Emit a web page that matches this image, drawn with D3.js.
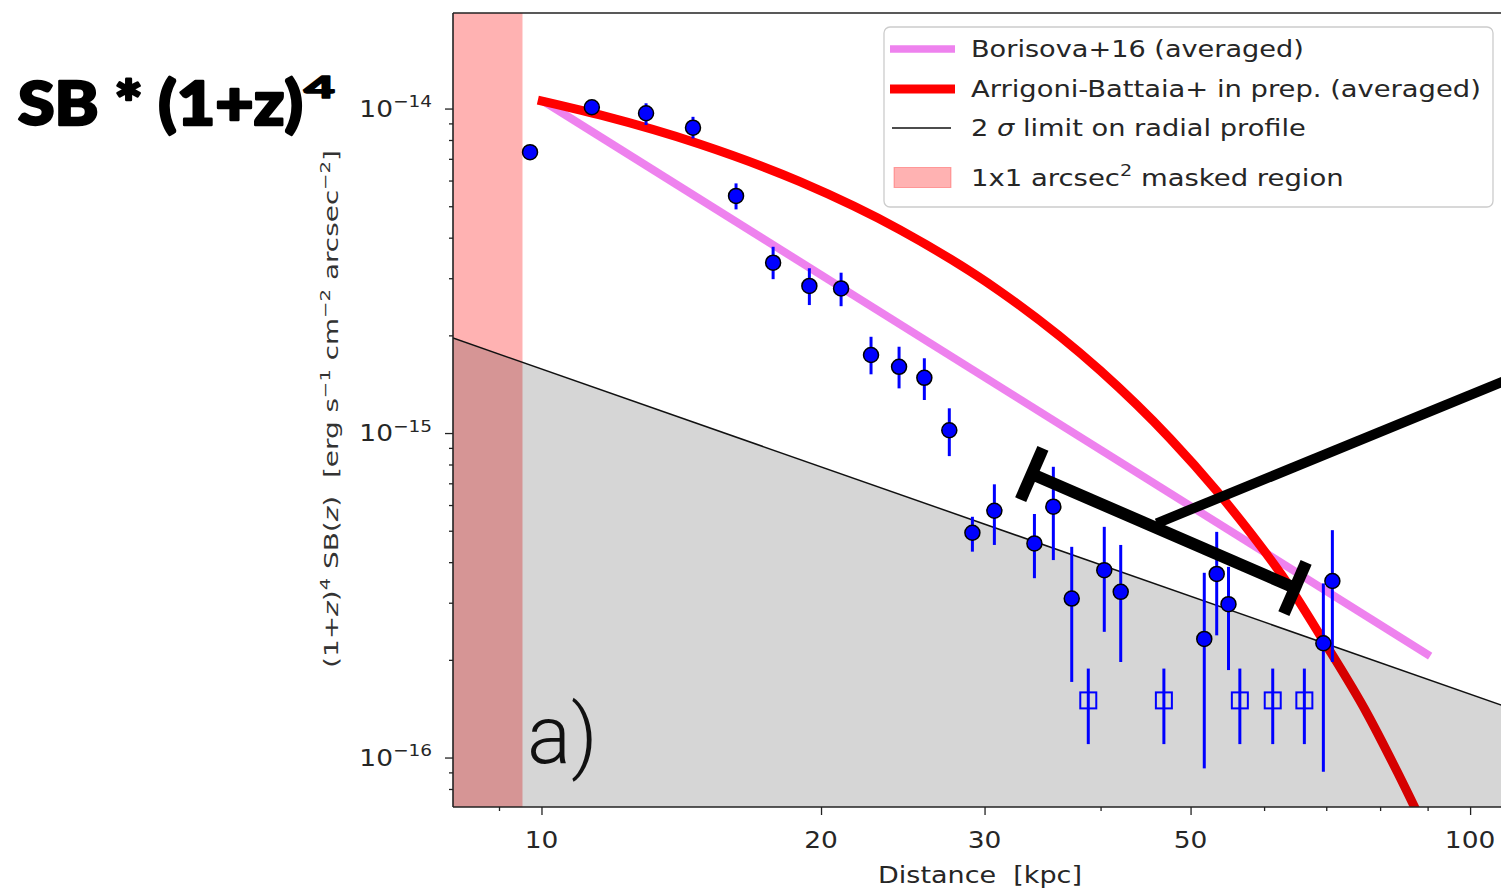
<!DOCTYPE html>
<html>
<head>
<meta charset="utf-8">
<script src="https://cdn.jsdelivr.net/npm/d3@7/dist/d3.min.js"></script>
<style>
  html,body{margin:0;padding:0;background:#fff;}
  svg{display:block;}
  text{font-family:"DejaVu Sans",sans-serif;}
</style>
</head>
<body>
<svg id="chart" width="1501" height="892"></svg>
<script>
// ---------------- data ----------------
const xTickValues = [10, 20, 30, 50, 100];
const xTickLabels = ["10", "20", "30", "50", "100"];
const xMinorTicks = [9, 40, 60, 70, 80, 90];
const yTickValues = [1e-16, 1e-15, 1e-14];
const yTickExponents = ["\u221216", "\u221215", "\u221214"];
const yMinorTicks = [8e-17, 9e-17, 2e-16, 3e-16, 4e-16, 5e-16, 6e-16, 7e-16, 8e-16, 9e-16,
                     2e-15, 3e-15, 4e-15, 5e-15, 6e-15, 7e-15, 8e-15, 9e-15];

const xDomain = [8.03, 110.4];          // kpc
const yDomain = [7.04e-17, 1.97e-14];   // erg s^-1 cm^-2 arcsec^-2

const maskR = [8.03, 9.54];

const limitR  = [8.03, 110.4];
const limitSB = [1.963e-15, 1.42e-16];

const borisovaR  = [10.04, 90.57];
const borisovaSB = [1.055e-14, 2.055e-16];

const arrigoniR  = [9.91, 11.56, 14.82, 18.98, 24.33, 31.17, 39.95, 47.53, 53.4, 57.94, 62.8, 69.45, 77.4, 83.5, 88.5];
const arrigoniSB = [1.062e-14, 9.556e-15, 7.762e-15, 5.952e-15, 4.228e-15, 2.734e-15, 1.559e-15, 9.61e-16,
                    6.607e-16, 4.943e-16, 3.624e-16, 2.302e-16, 1.372e-16, 9.02e-17, 6.42e-17];

const pointR  = [9.72, 11.33, 12.96, 14.56, 16.20, 17.76, 19.43, 21.02, 22.64, 24.27, 25.84, 27.49,
                 29.11, 30.74, 33.95, 35.58, 37.24, 40.37, 42.05, 51.73, 53.35, 54.93, 69.5, 71.07];
const pointSB = [7.34e-15, 1.009e-14, 9.67e-15, 8.73e-15, 5.38e-15, 3.35e-15, 2.84e-15, 2.79e-15,
                 1.74e-15, 1.60e-15, 1.48e-15, 1.02e-15, 4.93e-16, 5.76e-16, 4.57e-16, 5.93e-16,
                 3.09e-16, 3.78e-16, 3.24e-16, 2.32e-16, 3.68e-16, 2.97e-16, 2.25e-16, 3.50e-16];
const pointHi = [7.6e-15, 1.04e-14, 1.038e-14, 9.43e-15, 5.88e-15, 3.75e-15, 3.22e-15, 3.12e-15,
                 1.98e-15, 1.845e-15, 1.70e-15, 1.192e-15, 5.52e-16, 6.95e-16, 5.63e-16, 7.87e-16,
                 4.46e-16, 5.14e-16, 4.52e-16, 3.71e-16, 4.96e-16, 3.87e-16, 3.44e-16, 5.02e-16];
const pointLo = [7.1e-15, 9.8e-15, 8.90e-15, 8.09e-15, 4.89e-15, 2.98e-15, 2.48e-15, 2.46e-15,
                 1.517e-15, 1.373e-15, 1.264e-15, 8.49e-16, 4.31e-16, 4.52e-16, 3.57e-16, 4.06e-16,
                 1.71e-16, 2.44e-16, 1.97e-16, 9.26e-17, 2.38e-16, 1.86e-16, 9.04e-17, 1.97e-16];

const upperR  = [38.8, 46.8, 56.5, 61.3, 66.3];
const upperSB = [1.50e-16, 1.50e-16, 1.50e-16, 1.50e-16, 1.50e-16];
const upperHi = [1.88e-16, 1.88e-16, 1.88e-16, 1.88e-16, 1.88e-16];
const upperLo = [1.10e-16, 1.10e-16, 1.10e-16, 1.10e-16, 1.10e-16];

const annotBarR    = [33.73, 64.78];
const annotBarSB   = [7.48e-16, 3.33e-16];
const annotArrowR  = [45.98, 125];
const annotArrowSB = [5.27e-16, 1.70e-15];

const legendLabels = [
  [{t:"Borisova+16 (averaged)"}],
  [{t:"Arrigoni-Battaia+ in prep. (averaged)"}],
  [{t:"2 "}, {t:"\u03c3", it:true}, {t:" limit on radial profile"}],
  [{t:"1x1 arcsec"}, {t:"2", sup:true}, {t:" masked region"}]
];
const yLabelParts = [
  {t:"(1+"}, {t:"z", it:true}, {t:")"}, {t:"4", sup:true}, {t:" SB("}, {t:"z", it:true},
  {t:")  [erg s"}, {t:"\u22121", sup:true}, {t:" cm"}, {t:"\u22122", sup:true},
  {t:" arcsec"}, {t:"\u22122", sup:true}, {t:"]"}
];
const xLabelText = "Distance  [kpc]";
const titleText = "SB * (1+z)";
const titleSup = "4";
const panelText = "a)";

// ---------------- layout ----------------
const plot = {left: 453, top: 13, right: 1510, bottom: 807};
const svg = d3.select("#chart");
const x = d3.scaleLog().domain(xDomain).range([plot.left, plot.right]);
const y = d3.scaleLog().domain(yDomain).range([plot.bottom, plot.top]);

function addRich(textSel, parts, size) {
  let cur = 0;
  parts.forEach(p => {
    const ts = textSel.append("tspan").text(p.t);
    if (p.it) ts.style("font-style", "italic");
    const want = p.sup ? -0.42 * size : 0;
    if (p.sup) ts.attr("font-size", size * 0.7);
    if (want !== cur) { ts.attr("dy", want - cur); cur = want; }
  });
}
function fitText(parent, o) {
  const gg = parent.append("g");
  const t = gg.append("text")
    .attr("text-anchor", o.anchor || "start")
    .attr("font-size", o.size)
    .attr("fill", o.fill || "#222")
    .style("white-space", "pre");
  if (o.family) t.style("font-family", o.family);
  if (o.weight) t.attr("font-weight", o.weight);
  if (o.stroke) t.attr("stroke", o.fill).attr("stroke-width", o.stroke).attr("stroke-linejoin", "round");
  if (o.parts) addRich(t, o.parts, o.size); else t.text(o.text);
  let s = o.scale || 1;
  if (o.width) s = o.width / t.node().getBBox().width;
  gg.attr("transform", `translate(${o.x},${o.y}) rotate(${o.rotate || 0}) scale(${s},1)`);
  return gg;
}

svg.append("defs").append("clipPath").attr("id", "plotClip")
  .append("rect").attr("x", plot.left).attr("y", plot.top)
  .attr("width", plot.right - plot.left).attr("height", plot.bottom - plot.top);

const g = svg.append("g").attr("clip-path", "url(#plotClip)");

// masked region
g.append("rect")
  .attr("x", x(maskR[0])).attr("y", plot.top)
  .attr("width", x(maskR[1]) - x(maskR[0])).attr("height", plot.bottom - plot.top)
  .attr("fill", "#ff0000").attr("fill-opacity", 0.3);

const straight = d3.line().x(d => x(d[0])).y(d => y(d[1]));
const smooth = d3.line().x(d => x(d[0])).y(d => y(d[1])).curve(d3.curveMonotoneX);

// Borisova+16
g.append("path").datum(d3.zip(borisovaR, borisovaSB)).attr("d", straight)
  .attr("fill", "none").attr("stroke", "#ee82ee").attr("stroke-width", 8);
// Arrigoni-Battaia
g.append("path").datum(d3.zip(arrigoniR, arrigoniSB)).attr("d", smooth)
  .attr("fill", "none").attr("stroke", "#ff0000").attr("stroke-width", 9);

// 2 sigma limit shaded
const area = d3.area().x(d => x(d[0])).y0(plot.bottom).y1(d => y(d[1]));
g.append("path").datum(d3.zip(limitR, limitSB)).attr("d", area)
  .attr("fill", "#000").attr("fill-opacity", 0.16);
g.append("path").datum(d3.zip(limitR, limitSB)).attr("d", straight)
  .attr("fill", "none").attr("stroke", "#111").attr("stroke-width", 1.5);

// data points
const pts = pointR.map((r, i) => ({r, v: pointSB[i], hi: pointHi[i], lo: pointLo[i]}));
const ups = upperR.map((r, i) => ({r, v: upperSB[i], hi: upperHi[i], lo: upperLo[i]}));
g.selectAll(".eb").data(pts).join("line").attr("class", "eb")
  .attr("x1", d => x(d.r)).attr("x2", d => x(d.r))
  .attr("y1", d => y(d.hi)).attr("y2", d => y(d.lo))
  .attr("stroke", "#0000ff").attr("stroke-width", 3);
g.selectAll(".pt").data(pts).join("circle").attr("class", "pt")
  .attr("cx", d => x(d.r)).attr("cy", d => y(d.v)).attr("r", 7.5)
  .attr("fill", "#0000ff").attr("stroke", "#000").attr("stroke-width", 1.5);
g.selectAll(".ueb").data(ups).join("line").attr("class", "ueb")
  .attr("x1", d => x(d.r)).attr("x2", d => x(d.r))
  .attr("y1", d => y(d.hi)).attr("y2", d => y(d.lo))
  .attr("stroke", "#0000ff").attr("stroke-width", 3);
g.selectAll(".sq").data(ups).join("rect").attr("class", "sq")
  .attr("x", d => x(d.r) - 8).attr("y", d => y(d.v) - 8)
  .attr("width", 16).attr("height", 16)
  .attr("fill", "none").attr("stroke", "#0000ff").attr("stroke-width", 2);

// annotation (thick black bar with caps + pointer line)
const a1 = [x(annotBarR[0]), y(annotBarSB[0])], a2 = [x(annotBarR[1]), y(annotBarSB[1])];
const len = Math.hypot(a2[0] - a1[0], a2[1] - a1[1]);
const nx = -(a2[1] - a1[1]) / len, ny = (a2[0] - a1[0]) / len;
const ann = svg.append("g").attr("stroke", "#000").attr("fill", "none");
ann.append("line").attr("x1", a1[0]).attr("y1", a1[1]).attr("x2", a2[0]).attr("y2", a2[1]).attr("stroke-width", 12);
[a1, a2].forEach(p => ann.append("line")
  .attr("x1", p[0] - nx * 28).attr("y1", p[1] - ny * 28)
  .attr("x2", p[0] + nx * 28).attr("y2", p[1] + ny * 28).attr("stroke-width", 12));
ann.append("line")
  .attr("x1", x(annotArrowR[0])).attr("y1", y(annotArrowSB[0]))
  .attr("x2", x(annotArrowR[1])).attr("y2", y(annotArrowSB[1])).attr("stroke-width", 10);

// spines
const sp = svg.append("g").attr("stroke", "#222").attr("stroke-width", 1.6);
sp.append("line").attr("x1", plot.left).attr("x2", plot.left).attr("y1", plot.top).attr("y2", plot.bottom);
sp.append("line").attr("x1", plot.left).attr("x2", plot.right).attr("y1", plot.top).attr("y2", plot.top);
sp.append("line").attr("x1", plot.left).attr("x2", plot.right).attr("y1", plot.bottom).attr("y2", plot.bottom);

// ticks through d3 axes
const xMajor = svg.append("g").attr("transform", `translate(0,${plot.bottom})`)
  .call(d3.axisBottom(x).tickValues(xTickValues).tickSize(8).tickFormat(""));
const xMin = svg.append("g").attr("transform", `translate(0,${plot.bottom})`)
  .call(d3.axisBottom(x).tickValues(xMinorTicks).tickSize(4).tickFormat(""));
const yMajor = svg.append("g").attr("transform", `translate(${plot.left},0)`)
  .call(d3.axisLeft(y).tickValues(yTickValues).tickSize(8).tickFormat(""));
const yMin = svg.append("g").attr("transform", `translate(${plot.left},0)`)
  .call(d3.axisLeft(y).tickValues(yMinorTicks).tickSize(4).tickFormat(""));
[xMajor, xMin, yMajor, yMin].forEach(a => {
  a.select(".domain").remove();
  a.selectAll("line").attr("stroke", "#222").attr("stroke-width", 1.3);
});

// tick labels
xTickValues.forEach((v, i) => fitText(svg, {x: x(v), y: 848, anchor: "middle", size: 23, scale: 1.15,
  text: xTickLabels[i], fill: "#262626"}));
yTickValues.forEach((v, i) => fitText(svg, {x: 432, y: y(v) + 8.4, anchor: "end", size: 23, scale: 1.15,
  parts: [{t: "10"}, {t: yTickExponents[i], sup: true}], fill: "#262626"}));

// axis labels
fitText(svg, {x: 980, y: 883, anchor: "middle", size: 23, width: 204, text: xLabelText, fill: "#262626"});
fitText(svg, {x: 338, y: 409, rotate: -90, anchor: "middle", size: 20, width: 518, parts: yLabelParts, fill: "#333"});

// panel label
svg.append("text").attr("x", 527).attr("y", 763).attr("font-size", 82)
  .style("font-family", "Roboto, 'Open Sans', sans-serif").attr("font-weight", 300)
  .attr("fill", "#111").text(panelText);

// legend
const lg = svg.append("g");
lg.append("rect").attr("x", 884).attr("y", 27).attr("width", 609).attr("height", 180).attr("rx", 6)
  .attr("fill", "#fff").attr("fill-opacity", 0.8).attr("stroke", "#cccccc").attr("stroke-width", 1.3);
const rowsY = [49, 89, 128, 177.5];
lg.append("line").attr("x1", 890).attr("x2", 955).attr("y1", rowsY[0]).attr("y2", rowsY[0])
  .attr("stroke", "#ee82ee").attr("stroke-width", 7.5);
lg.append("line").attr("x1", 890).attr("x2", 955).attr("y1", rowsY[1]).attr("y2", rowsY[1])
  .attr("stroke", "#ff0000").attr("stroke-width", 9);
lg.append("line").attr("x1", 892).attr("x2", 951).attr("y1", rowsY[2]).attr("y2", rowsY[2])
  .attr("stroke", "#111").attr("stroke-width", 1.5);
lg.append("rect").attr("x", 894).attr("y", rowsY[3] - 10).attr("width", 57).attr("height", 20)
  .attr("fill", "#ff0000").attr("fill-opacity", 0.3).attr("stroke", "#ff0000").attr("stroke-opacity", 0.3);
const legendWidths = [333, 510, 335, 373];
legendLabels.forEach((parts, i) => fitText(lg, {x: 971, y: rowsY[i] + 8.3, size: 23, width: legendWidths[i],
  parts, fill: "#262626"}));

// title
fitText(svg, {x: 18, y: 125, size: 60, width: 285, text: titleText, fill: "#000",
  family: "Lato, Inter, Roboto, sans-serif", weight: 900, stroke: 2.5});
fitText(svg, {x: 304, y: 98, size: 31, width: 31, text: titleSup, fill: "#000",
  family: "Lato, Inter, Roboto, sans-serif", weight: 900, stroke: 1.5});
</script>
</body>
</html>
